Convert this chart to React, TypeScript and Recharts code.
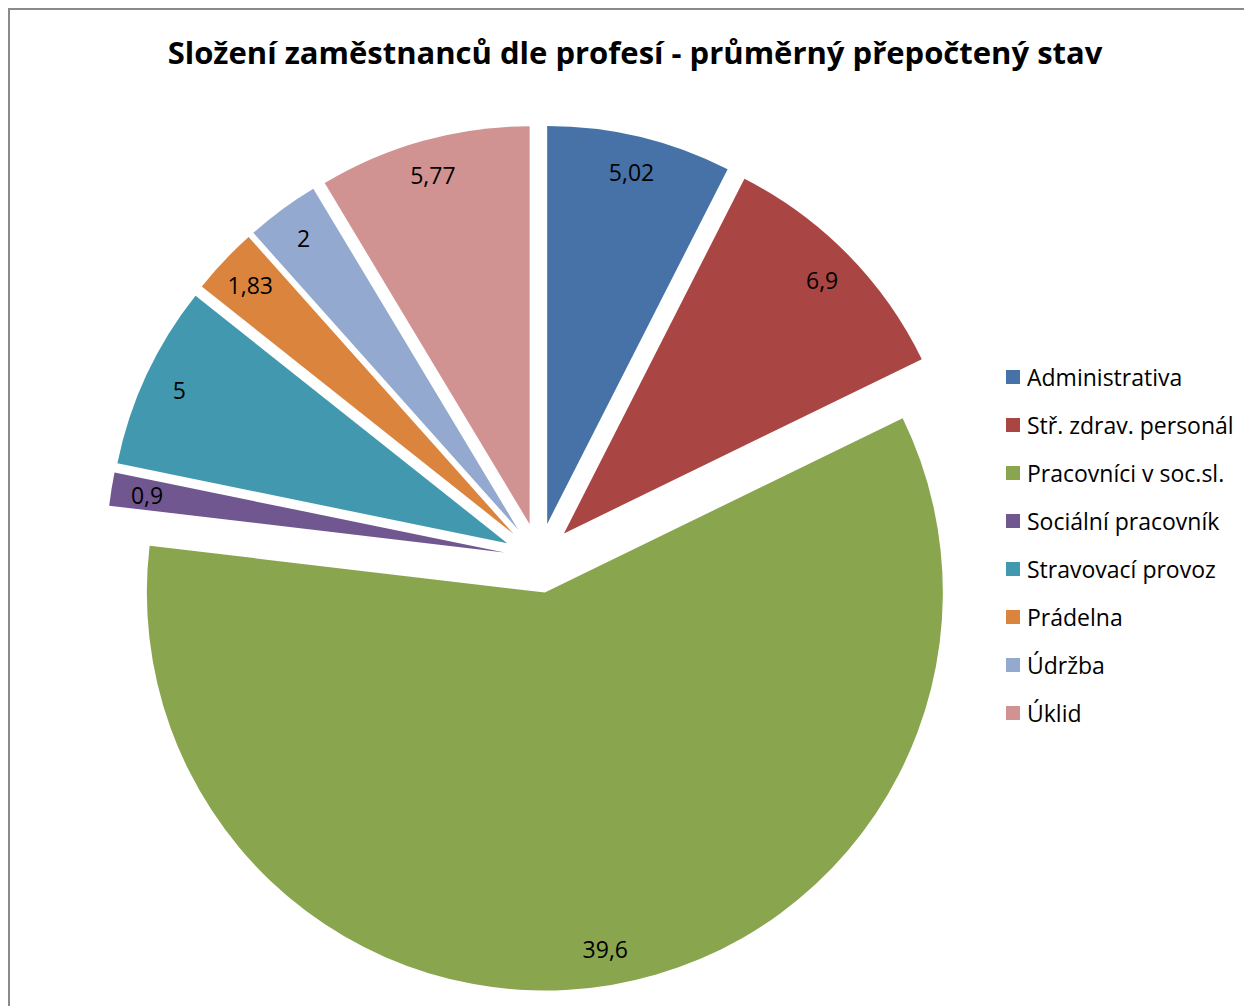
import React from "react";
import { PieChart, Pie, Cell, Legend, Sector } from "recharts";

const categories = [
  "Administrativa",
  "Stř. zdrav. personál",
  "Pracovníci v soc.sl.",
  "Sociální pracovník",
  "Stravovací provoz",
  "Prádelna",
  "Údržba",
  "Úklid",
];

const values = [5.02, 6.9, 39.6, 0.9, 5, 1.83, 2, 5.77];

const COLORS = [
  "#4672a8",
  "#a94543",
  "#89a54e",
  "#71578f",
  "#4198af",
  "#db843d",
  "#93a9cf",
  "#d19392",
];

const TITLE = "Složení zaměstnanců dle profesí - průměrný přepočtený stav";
const FONT = "'Open Sans', Lato, sans-serif";
const RADIAN = Math.PI / 180;
const EXPLODE = 35;
const LABEL_R = 397;

const data = categories.map((name, i) => ({ name, value: values[i] }));

const fmt = (v: number) => String(v).replace(".", ",");

// exploded slice + its value label, both placed from the pie's own geometry
const renderSlice = (p: any) => {
  const cos = Math.cos(p.midAngle * RADIAN);
  const sin = Math.sin(p.midAngle * RADIAN);
  return (
    <g key={`slice-${p.index}`}>
      <Sector
        cx={p.cx + cos * EXPLODE}
        cy={p.cy - sin * EXPLODE}
        innerRadius={0}
        outerRadius={p.outerRadius}
        startAngle={p.startAngle}
        endAngle={p.endAngle}
        fill={COLORS[p.index]}
        stroke="none"
      />
      <text
        x={p.cx + cos * LABEL_R}
        y={p.cy - sin * LABEL_R}
        textAnchor="middle"
        dominantBaseline="central"
        fontFamily={FONT}
        fontSize={23}
        fill="#000"
      >
        {fmt(p.value)}
      </text>
    </g>
  );
};

const LegendContent = () => (
  <div style={{ fontFamily: FONT, fontSize: 23, color: "#000" }}>
    {categories.map((name, i) => (
      <div key={name} style={{ display: "flex", alignItems: "center", height: 48 }}>
        <span
          style={{
            display: "inline-block",
            width: 14,
            height: 14,
            marginRight: 7,
            background: COLORS[i],
          }}
        />
        <span style={{ whiteSpace: "nowrap" }}>{name}</span>
      </div>
    ))}
  </div>
);

export default function App() {
  return (
    <div
      style={{
        position: "relative",
        width: 1262,
        height: 1010,
        border: "2px solid #8a8a8a",
        background: "#fff",
      }}
    >
      <div
        style={{
          position: "absolute",
          top: 27,
          left: 0,
          width: 1250,
          textAlign: "center",
          fontFamily: FONT,
          fontWeight: 700,
          fontSize: 31,
          lineHeight: 1,
          color: "#000",
          whiteSpace: "nowrap",
        }}
      >
        {TITLE}
      </div>
      <PieChart width={1250} height={996}>
        <Pie
          data={data}
          dataKey="value"
          nameKey="name"
          cx={524}
          cy={543}
          outerRadius={398}
          startAngle={90}
          endAngle={-270}
          stroke="none"
          labelLine={false}
          label={renderSlice}
          isAnimationActive={false}
        >
          {data.map((_, i) => (
            <Cell key={`cell-${i}`} fill={COLORS[i]} fillOpacity={0} />
          ))}
        </Pie>
        <Legend
          layout="vertical"
          align="right"
          verticalAlign="top"
          content={<LegendContent />}
          wrapperStyle={{ left: 996, top: 343, width: 254 }}
        />
      </PieChart>
    </div>
  );
}
